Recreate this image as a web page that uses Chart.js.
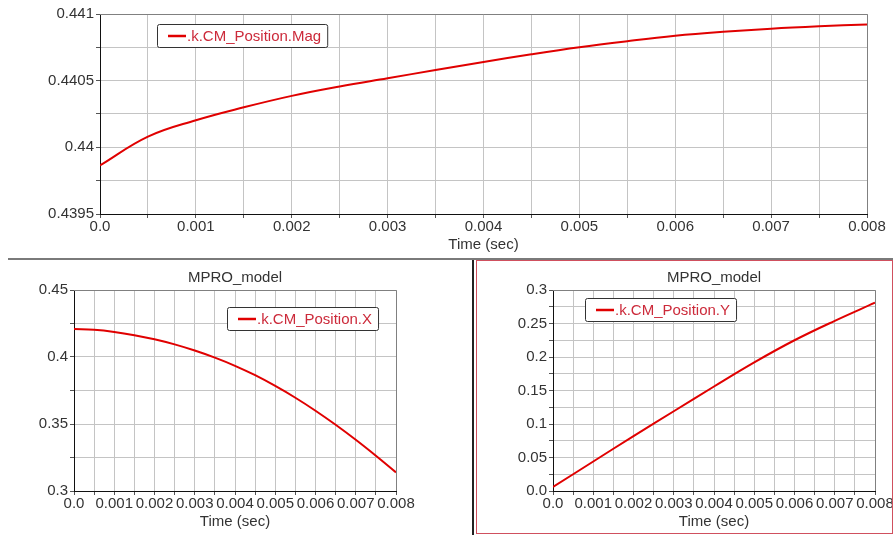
<!DOCTYPE html>
<html>
<head>
<meta charset="utf-8">
<script src="https://cdn.jsdelivr.net/npm/chart.js@4"></script>
<style>
    html, body { margin: 0; padding: 0; background: #fff; }
    body { width: 893px; height: 535px; position: relative; overflow: hidden; }
    canvas { position: absolute; }
    .rule { position: absolute; z-index: 2; }
</style>
</head>
<body>
<canvas id="magChart" width="893" height="258" style="left:0;top:0"></canvas>
<canvas id="xChart" width="463" height="271" style="left:9px;top:262px"></canvas>
<canvas id="yChart" width="415" height="271" style="left:478px;top:262px"></canvas>

<div class="rule" style="left:8px;top:258px;width:885px;height:2px;background:#7a7a7a"></div>
<div class="rule" style="left:472px;top:260px;width:2px;height:275px;background:#222"></div>
<div class="rule" style="left:476px;top:260px;width:415px;height:272px;border:1px solid #d0505e"></div>

<script>
// time axis (sec)
const timeMag = [0, 0.0005, 0.001, 0.0015, 0.002, 0.0025, 0.003, 0.0035, 0.004, 0.0045, 0.005, 0.0055, 0.006, 0.0065, 0.007, 0.0075, 0.008];
const posMag = [0.439864, 0.440080, 0.440203, 0.440300, 0.440386, 0.440456, 0.440518, 0.440580, 0.440640, 0.440698, 0.440751, 0.440796, 0.440836, 0.440866, 0.440890, 0.440908, 0.440922];

const timeX = [0, 0.0005, 0.001, 0.0015, 0.002, 0.0025, 0.003, 0.0035, 0.004, 0.0045, 0.005, 0.0055, 0.006, 0.0065, 0.007, 0.0075, 0.008];
const posX = [0.4209, 0.4203, 0.4187, 0.4163, 0.4132, 0.4094, 0.4048, 0.3995, 0.3934, 0.3864, 0.3784, 0.3696, 0.3599, 0.3494, 0.3382, 0.3263, 0.3139];

const timeY = [0, 0.001, 0.002, 0.003, 0.004, 0.005, 0.006, 0.007, 0.008];
const posY = [0.006, 0.044, 0.082, 0.119, 0.156, 0.192, 0.225, 0.254, 0.281];

const FONT = '"Liberation Sans", Arial, sans-serif';
Chart.defaults.font.family = FONT;
Chart.defaults.color = '#333';

const fmt = (v) => {
    if (Math.abs(v) < 1e-12) return '0.0';
    return String(parseFloat(v.toFixed(5)));
};

// legend box drawn inside the plot area
const insideLegend = {
    id: 'insideLegend',
    afterDatasetsDraw(chart, args, opts) {
        const { ctx, chartArea } = chart;
        const ds = chart.data.datasets[0];
        ctx.save();
        ctx.font = '15px ' + FONT;
        const textW = ctx.measureText(ds.label).width;
        const x = chartArea.left + opts.dx;
        const y = chartArea.top + opts.dy;
        const w = textW + 36;
        const h = 23;
        ctx.fillStyle = '#fff';
        ctx.strokeStyle = '#333';
        ctx.lineWidth = 1;
        ctx.beginPath();
        ctx.roundRect(x + 0.5, y + 0.5, w, h, 2);
        ctx.fill();
        ctx.stroke();
        ctx.strokeStyle = ds.borderColor;
        ctx.lineWidth = 2.5;
        ctx.beginPath();
        ctx.moveTo(x + 11, y + h / 2 + 0.5);
        ctx.lineTo(x + 29, y + h / 2 + 0.5);
        ctx.stroke();
        ctx.fillStyle = '#cc2a3a';
        ctx.textBaseline = 'middle';
        ctx.fillText(ds.label, x + 30, y + h / 2 + 1);
        ctx.restore();
    }
};

// grey top/right edges of the plot frame
const plotFrame = {
    id: 'plotFrame',
    beforeDatasetsDraw(chart) {
        const { ctx, chartArea: a } = chart;
        ctx.save();
        ctx.strokeStyle = '#808080';
        ctx.lineWidth = 1;
        ctx.beginPath();
        ctx.moveTo(a.left, a.top + 0.5);
        ctx.lineTo(a.right + 0.5, a.top + 0.5);
        ctx.lineTo(a.right + 0.5, a.bottom);
        ctx.stroke();
        ctx.restore();
    }
};

function renderPositionChart(canvasId, cfg) {
    const ctx = document.getElementById(canvasId);
    return new Chart(ctx, {
        type: 'line',
        data: {
            datasets: [{
                label: cfg.label,
                data: cfg.times.map((t, i) => ({ x: t, y: cfg.values[i] })),
                borderColor: '#e00000',
                borderWidth: 2,
                pointRadius: 0,
                tension: 0.4,
                fill: false
            }]
        },
        options: {
            responsive: false,
            animation: false,
            layout: { padding: cfg.padding },
            plugins: {
                legend: { display: false },
                tooltip: { enabled: false },
                title: {
                    display: !!cfg.title,
                    text: cfg.title,
                    fullSize: false,
                    color: '#333',
                    font: { size: 15, weight: 'normal' },
                    padding: { top: 7, bottom: 3 }
                },
                insideLegend: cfg.legendPos
            },
            scales: {
                x: {
                    type: 'linear',
                    min: 0,
                    max: 0.008,
                    afterFit(scale) {
                        scale.height = cfg.xHeight;
                        scale.paddingLeft = 0;
                        scale.paddingRight = 0;
                    },
                    ticks: {
                        stepSize: 0.0005,
                        autoSkip: false,
                        maxRotation: 0,
                        minRotation: 0,
                        padding: 0,
                        color: '#333',
                        font: { size: 15 },
                        callback: (v, i) => (i % 2 === 0 ? fmt(v) : '')
                    },
                    grid: { color: '#c4c4c4', tickColor: '#555', tickLength: 4 },
                    border: { color: '#111', width: 1 },
                    title: {
                        display: true,
                        text: 'Time (sec)',
                        color: '#333',
                        font: { size: 15 },
                        padding: { top: 0, bottom: cfg.xTitlePad }
                    }
                },
                y: {
                    type: 'linear',
                    min: cfg.yMin,
                    max: cfg.yMax,
                    afterFit(scale) {
                        scale.width = cfg.yWidth;
                    },
                    ticks: {
                        stepSize: cfg.yStep,
                        autoSkip: false,
                        padding: 2,
                        color: '#333',
                        font: { size: 15 },
                        callback: (v, i) => (i % 2 === 0 ? fmt(v) : '')
                    },
                    grid: { color: '#c4c4c4', tickColor: '#555', tickLength: 4 },
                    border: { color: '#111', width: 1 }
                }
            }
        },
        plugins: [plotFrame, insideLegend]
    });
}

renderPositionChart('magChart', {
    label: '.k.CM_Position.Mag',
    times: timeMag,
    values: posMag,
    title: '',
    padding: { left: 0, top: 14, right: 26, bottom: 0 },
    yWidth: 100,
    xHeight: 44,
    xTitlePad: 4,
    yMin: 0.4395,
    yMax: 0.441,
    yStep: 0.00025,
    legendPos: { dx: 57, dy: 10 }
});

renderPositionChart('xChart', {
    label: '.k.CM_Position.X',
    times: timeX,
    values: posX,
    title: 'MPRO_model',
    padding: { left: 0, top: 0, right: 76, bottom: 0 },
    yWidth: 65,
    xHeight: 42,
    xTitlePad: 2,
    yMin: 0.3,
    yMax: 0.45,
    yStep: 0.025,
    legendPos: { dx: 153, dy: 17 }
});

renderPositionChart('yChart', {
    label: '.k.CM_Position.Y',
    times: timeY,
    values: posY,
    title: 'MPRO_model',
    padding: { left: 0, top: 0, right: 18, bottom: 0 },
    yWidth: 75,
    xHeight: 42,
    xTitlePad: 2,
    yMin: 0,
    yMax: 0.3,
    yStep: 0.025,
    legendPos: { dx: 32, dy: 8 }
});
</script>
</body>
</html>
